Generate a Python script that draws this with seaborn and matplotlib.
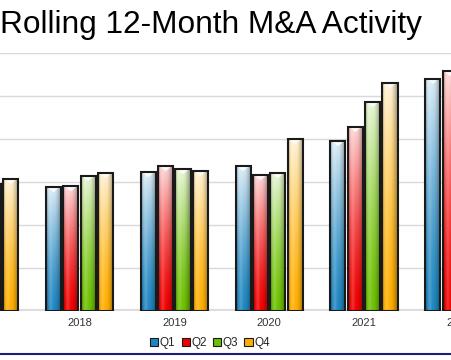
import numpy as np
import pandas as pd
import matplotlib
matplotlib.use("Agg")
import matplotlib.pyplot as plt
import seaborn as sns
from matplotlib.colors import to_rgb
from matplotlib.patches import Rectangle, Polygon
from matplotlib.lines import Line2D
from matplotlib.transforms import blended_transform_factory

years = ["2017", "2018", "2019", "2020", "2021", "2022"]
quarters = ["Q1", "Q2", "Q3", "Q4"]
q1 = [2.75, 2.88, 3.23, 3.37, 3.95, 5.40]
q2 = [2.80, 2.90, 3.37, 3.16, 4.28, 5.58]
q3 = [2.95, 3.14, 3.30, 3.21, 4.86, 5.75]
q4 = [3.07, 3.21, 3.26, 4.00, 5.30, 5.90]
colors = ["#1f86c0", "#f00000", "#6cc000", "#ffae00"]

df = pd.DataFrame({
    "year": np.repeat(years, 4),
    "quarter": quarters * len(years),
    "value": [v for row in zip(q1, q2, q3, q4) for v in row],
})

sns.set_theme(style="white")
plt.rcParams["font.family"] = ["Liberation Sans", "DejaVu Sans"]

fig = plt.figure(figsize=(4.52, 3.60), dpi=100)
ax = fig.add_axes([0, (360 - 311) / 360, 1, 258 / 360])

sns.barplot(data=df, x="year", y="value", hue="quarter", hue_order=quarters,
            palette=colors, width=0.732, gap=0.13, ax=ax, legend=False,
            edgecolor="#1a1a1a", linewidth=1.5)

ax.set_ylim(0, 6)
ax.set_yticks([1, 2, 3, 4, 5, 6])
ax.set_yticklabels([])
ax.yaxis.grid(True, color="#d9d9d9", linewidth=1.0)
ax.set_axisbelow(True)
for s in ax.spines.values():
    s.set_visible(False)
ax.axhline(0, color="#dddddd", linewidth=3, zorder=0.6)
ax.set_xlabel("")
ax.set_ylabel("")
ax.set_xticks([])
ax.tick_params(axis="y", length=0)

XMIN, XMAX = 0.161, 4.929
trans = blended_transform_factory(ax.transData, fig.transFigure)
for i, yr in enumerate(years):
    if i < XMIN:
        continue  # label lies entirely outside the visible area
    ax.text(i, 1 - 323 / 360, yr, transform=trans, ha="center", va="center",
            fontsize=8, color="#333333", clip_on=False)

def shade(patch, base):
    x0, y0 = patch.get_x(), patch.get_y()
    w, h = patch.get_width(), patch.get_height()
    if not np.isfinite(h) or h <= 0:
        return
    ny, nx = 120, 30
    t = np.linspace(0, 1, ny)[:, None]
    u = np.linspace(0, 1, nx)[None, :]
    b = np.array(to_rgb(base))
    mix = 0.84 * t ** 1.4
    col = b[None, None, :] * (1 - mix[..., None]) + mix[..., None]
    col = np.broadcast_to(col, (ny, nx, 3)).copy()
    hs = 1 - 0.38 * np.clip((u - 0.55) / 0.45, 0, 1) ** 1.3 - 0.30 * np.clip((0.15 - u) / 0.15, 0, 1)
    hl = 0.18 * np.exp(-((u - 0.3) / 0.12) ** 2)
    col = col * hs[..., None] + hl[..., None] * (1 - col)
    col = np.clip(col, 0, 1)
    img = ax.imshow(col, extent=[x0, x0 + w, y0, y0 + h], origin="lower",
                    aspect="auto", interpolation="bilinear", zorder=0.9)
    img.set_clip_path(patch)
    top = y0 + h
    tri = Polygon([(x0 + 0.1 * w, top), (x0 + 0.9 * w, top), (x0 + 0.5 * w, top - 0.12)],
                  closed=True, facecolor="white", edgecolor="none", alpha=0.85, zorder=0.95)
    ax.add_patch(tri)
    tri.set_clip_path(patch)
    patch.set_facecolor("none")
    patch.set_zorder(1.0)

for i, cont in enumerate(ax.containers):
    for p in cont.patches:
        shade(p, colors[i])

ax.set_xlim(XMIN, XMAX)
ax.set_ylim(0, 6)

fig.text(0, 1 - 25 / 360, "Rolling 12-Month M&A Activity", ha="left", va="center",
         fontsize=22.8, color="black")

handles = [Rectangle((0, 0), 1, 1, facecolor=c, edgecolor="#1a1a1a", linewidth=0.8) for c in colors]
fig.legend(handles, quarters, loc="center", bbox_to_anchor=(210 / 452, 1 - 343 / 360),
           ncol=4, frameon=False, fontsize=8.5, handlelength=0.7, handleheight=0.7,
           handletextpad=0.15, columnspacing=0.5, borderpad=0)

fig.add_artist(Line2D([0, 1], [1 - 353.5 / 360] * 2, color="#1c1c80", linewidth=1.5))

fig.savefig("out.png", dpi=100)
